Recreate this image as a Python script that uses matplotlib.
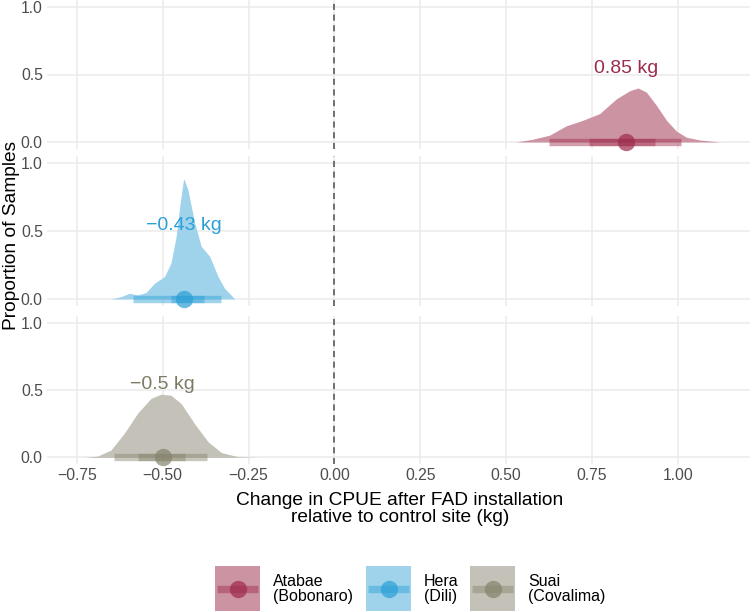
import matplotlib.pyplot as plt
from matplotlib.patches import Rectangle

plt.rcParams['font.family'] = ['Liberation Sans', 'DejaVu Sans']

# ── data ───────────────────────────────────────────────────────────────
sites = ["Atabae\n(Bobonaro)", "Hera\n(Dili)", "Suai\n(Covalima)"]
colors = ["#9e2a4b", "#2a9fd6", "#85836c"]
fills = ["#cc93a3", "#9fd3ec", "#c4c2b8"]
text_colors = ["#9b2d4c", "#2b9fd8", "#7d7b65"]

atabae_x = [0.529, 0.576, 0.626, 0.675, 0.722, 0.772, 0.821, 0.860, 0.884,
            0.908, 0.938, 0.967, 0.996, 1.025, 1.064, 1.123]
atabae_y = [0.0, 0.02, 0.05, 0.12, 0.16, 0.21, 0.32, 0.38, 0.40,
            0.37, 0.27, 0.16, 0.08, 0.035, 0.015, 0.0]

hera_x = [-0.651, -0.622, -0.597, -0.573, -0.549, -0.524, -0.495, -0.476,
          -0.461, -0.448, -0.439, -0.427, -0.407, -0.388, -0.363, -0.339,
          -0.320, -0.290]
hera_y = [0.0, 0.017, 0.042, 0.03, 0.047, 0.116, 0.165, 0.264,
          0.46, 0.73, 0.886, 0.807, 0.56, 0.387, 0.313, 0.165,
          0.079, 0.0]

suai_x = [-0.729, -0.690, -0.651, -0.612, -0.573, -0.534, -0.505, -0.476,
          -0.446, -0.407, -0.368, -0.329, -0.281, -0.222]
suai_y = [0.0, 0.01, 0.055, 0.18, 0.33, 0.44, 0.47, 0.463,
          0.40, 0.25, 0.117, 0.036, 0.006, 0.0]

medians = [0.85, -0.437, -0.50]
outer_lo = [0.626, -0.588, -0.643]
outer_hi = [1.010, -0.331, -0.371]
inner_lo = [0.740, -0.476, -0.571]
inner_hi = [0.933, -0.381, -0.435]
labels = ["0.85 kg", "\u22120.43 kg", "\u22120.5 kg"]

xticks = [-0.75, -0.50, -0.25, 0.00, 0.25, 0.50, 0.75, 1.00]
xticklabels = ["\u22120.75", "\u22120.50", "\u22120.25", "0.00", "0.25", "0.50", "0.75", "1.00"]
yticks = [0.0, 0.5, 1.0]

curves = [(atabae_x, atabae_y), (hera_x, hera_y), (suai_x, suai_y)]

W, H = 753, 612
fig = plt.figure(figsize=(W / 100, H / 100), dpi=100)

# panel pixel extents (top, bottom)
panels = [(0.25, 148.75), (156.2, 305.8), (316.3, 464.2)]
left_px, right_px = 47, 750

for i, ((x, y), (t, b)) in enumerate(zip(curves, panels)):
    ax = fig.add_axes([left_px / W, 1 - b / H, (right_px - left_px) / W, (b - t) / H])
    ax.set_xlim(-0.837, 1.21)
    ax.set_ylim(-0.05, 1.05)
    for s in ax.spines.values():
        s.set_visible(False)
    ax.set_xticks(xticks)
    ax.set_yticks(yticks)
    ax.set_yticklabels(["0.0", "0.5", "1.0"])
    ax.grid(True, color="#ebebeb", linewidth=1.1)
    ax.set_axisbelow(True)
    ax.tick_params(length=0, labelsize=11.3, colors="#4d4d4d", pad=3)
    if i < 2:
        ax.set_xticklabels([])
    else:
        ax.set_xticklabels(xticklabels)
    ax.axvline(0, color="#4d4d4d", linestyle=(0, (4, 3)), linewidth=1.1, zorder=1)

    ax.fill_between(x, 0, y, color=fills[i], linewidth=0, zorder=2)
    ax.plot([outer_lo[i], outer_hi[i]], [0, 0], color=colors[i], alpha=0.45,
            linewidth=5.3, solid_capstyle="butt", zorder=3)
    ax.plot([inner_lo[i], inner_hi[i]], [0, 0], color=colors[i], alpha=0.45,
            linewidth=5.3, solid_capstyle="butt", zorder=3)
    ax.plot([medians[i]], [0], "o", color=colors[i], alpha=0.7,
            markersize=12.5, markeredgewidth=0, zorder=4, clip_on=False)
    ax.text(medians[i], 0.48, labels[i], color=text_colors[i], fontsize=14,
            ha="center", va="bottom", zorder=5)

fig.text(12 / W, 1 - 235 / H, "Proportion of Samples", rotation=90,
         ha="center", va="center", fontsize=13.8)
fig.text(400 / W, 1 - 509 / H, "Change in CPUE after FAD installation\nrelative to control site (kg)",
         ha="center", va="center", fontsize=13.8, linespacing=0.95)

# legend
key_x = [215, 366, 470]
key_y, key_s = 566, 45
for i, kx in enumerate(key_x):
    lax = fig.add_axes([kx / W, 1 - (key_y + key_s) / H, key_s / W, key_s / H])
    lax.set_xlim(0, 1)
    lax.set_ylim(0, 1)
    lax.axis("off")
    lax.add_patch(Rectangle((0, 0), 1, 1, color=fills[i], linewidth=0))
    lax.plot([0.05, 0.95], [0.5, 0.5], color=colors[i], alpha=0.45,
             linewidth=5.3, solid_capstyle="butt")
    lax.plot([0.5], [0.5], "o", color=colors[i], alpha=0.7,
             markersize=12.5, markeredgewidth=0)
    fig.text((kx + key_s + 13) / W, 1 - (key_y + key_s / 2) / H, sites[i],
             ha="left", va="center", fontsize=11.5, linespacing=1.0)

fig.savefig("out.png", dpi=100)
